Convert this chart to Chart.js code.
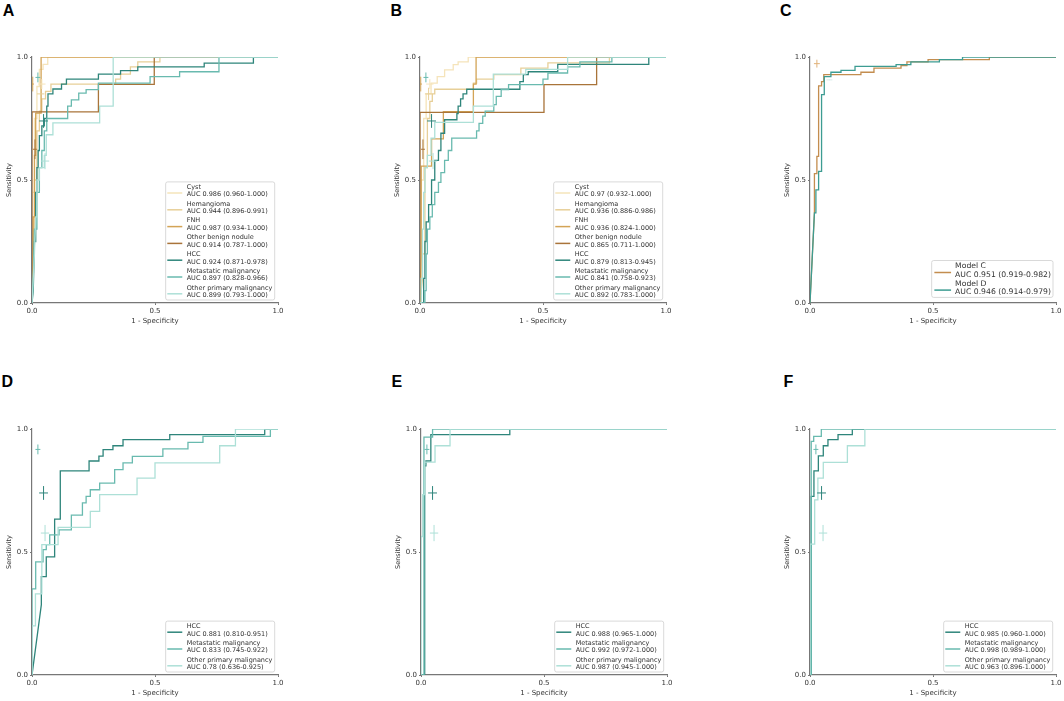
<!DOCTYPE html>
<html>
<head>
<meta charset="utf-8">
<script src="https://cdn.jsdelivr.net/npm/chart.js@4.4.1/dist/chart.umd.min.js"></script>
<style>
  html, body { margin: 0; padding: 0; background: #fff; }
  body { width: 1064px; height: 701px; position: relative; overflow: hidden; font-family: "DejaVu Sans", sans-serif; }
  canvas { position: absolute; }
  .letter { position: absolute; font: bold 16px/16px "Liberation Sans", Arial, sans-serif; color: #000; }
</style>
</head>
<body>
<div class="letter" style="left:2.7px;top:3.1px">A</div>
<div class="letter" style="left:390.5px;top:3.1px">B</div>
<div class="letter" style="left:779.9px;top:3.1px">C</div>
<div class="letter" style="left:1.5px;top:373.7px">D</div>
<div class="letter" style="left:391.5px;top:373.7px">E</div>
<div class="letter" style="left:783.5px;top:373.7px">F</div>

<canvas id="cA" width="288" height="280" style="left:1.8px;top:49.3px"></canvas>
<canvas id="cB" width="288" height="280" style="left:390px;top:49.3px"></canvas>
<canvas id="cC" width="288" height="280" style="left:779.7px;top:49.3px"></canvas>
<canvas id="cD" width="288" height="280" style="left:2px;top:421.3px"></canvas>
<canvas id="cE" width="288" height="280" style="left:391px;top:421.3px"></canvas>
<canvas id="cF" width="288" height="280" style="left:780px;top:421.3px"></canvas>

<script>
// ---------- classes ----------
const classNames = ['Cyst', 'Hemangioma', 'FNH', 'Other benign nodule', 'HCC', 'Metastatic malignancy', 'Other primary malignancy'];
const classColors = ['#f5e4ba', '#e7cf98', '#d3a456', '#a9743a', '#2e857b', '#69baaf', '#ade0d7'];

// ---------- reader operating points (1 - specificity, sensitivity, CI half widths) ----------
const readerFPR = [0.040, 0.035, 0.003, 0.012, 0.047, 0.024, 0.053];
const readerTPR = [0.890, 0.850, 0.890, 0.625, 0.740, 0.917, 0.577];
const readerFPRErr = [0.015, 0.015, 0.005, 0.008, 0.018, 0.010, 0.017];
const readerTPRErr = [0.020, 0.025, 0.030, 0.040, 0.028, 0.020, 0.033];

// ---------- panel A: ROC points [fpr, tpr] ----------
const A_Cyst = [[0,0],[0,0.45],[0.01,0.45],[0.01,0.75],[0.02,0.75],[0.02,0.88],[0.03,0.88],[0.03,0.95],[0.045,0.95],[0.045,0.97],[0.064,0.97],[0.064,1],[1,1]];
const A_Hemangioma = [[0,0],[0.005,0.3],[0.01,0.3],[0.01,0.5],[0.02,0.5],[0.02,0.7],[0.03,0.7],[0.03,0.78],[0.04,0.78],[0.04,0.83],[0.055,0.83],[0.055,0.86],[0.077,0.86],[0.077,0.89],[0.34,0.89],[0.34,0.91],[0.36,0.91],[0.36,0.93],[0.4,0.93],[0.4,0.96],[0.43,0.96],[0.43,0.98],[0.52,0.98],[0.52,1],[1,1]];
const A_FNH = [[0,0],[0.005,0.2],[0.005,0.35],[0.01,0.35],[0.01,0.6],[0.015,0.6],[0.015,0.772],[0.037,0.772],[0.037,1],[1,1]];
const A_OtherBenign = [[0,0],[0,0.777],[0.27,0.777],[0.27,0.889],[0.497,0.889],[0.497,1],[1,1]];
const A_HCC = [[0,0],[0.005,0.05],[0.01,0.25],[0.015,0.25],[0.015,0.45],[0.02,0.45],[0.02,0.55],[0.025,0.55],[0.025,0.62],[0.03,0.62],[0.03,0.68],[0.04,0.68],[0.04,0.72],[0.05,0.72],[0.05,0.75],[0.06,0.75],[0.06,0.8],[0.065,0.8],[0.065,0.85],[0.085,0.85],[0.085,0.87],[0.12,0.87],[0.12,0.89],[0.14,0.89],[0.14,0.91],[0.27,0.91],[0.27,0.93],[0.36,0.93],[0.36,0.945],[0.43,0.945],[0.43,0.96],[0.7,0.96],[0.7,0.975],[0.9,0.975],[0.9,1],[1,1]];
const A_Metastatic = [[0,0],[0.005,0.1],[0.01,0.3],[0.02,0.3],[0.02,0.45],[0.03,0.45],[0.03,0.55],[0.04,0.55],[0.04,0.62],[0.05,0.62],[0.05,0.7],[0.06,0.7],[0.06,0.75],[0.145,0.75],[0.145,0.8],[0.16,0.8],[0.16,0.826],[0.19,0.826],[0.19,0.853],[0.22,0.853],[0.22,0.867],[0.27,0.867],[0.27,0.894],[0.48,0.894],[0.48,0.92],[0.6,0.92],[0.6,0.94],[0.76,0.94],[0.76,1],[1,1]];
const A_OtherPrimary = [[0,0],[0.005,0.1],[0.01,0.2],[0.015,0.35],[0.02,0.35],[0.02,0.5],[0.03,0.5],[0.03,0.55],[0.05,0.55],[0.05,0.6],[0.058,0.6],[0.058,0.684],[0.085,0.684],[0.085,0.732],[0.275,0.732],[0.275,0.8],[0.33,0.8],[0.33,1],[1,1]];
const A_AUC = ['AUC 0.986 (0.960-1.000)', 'AUC 0.944 (0.896-0.991)', 'AUC 0.987 (0.934-1.000)', 'AUC 0.914 (0.787-1.000)', 'AUC 0.924 (0.871-0.978)', 'AUC 0.897 (0.828-0.966)', 'AUC 0.899 (0.793-1.000)'];

// ---------- panel B ----------
const B_Cyst = [[0,0],[0.005,0],[0.005,0.5],[0.015,0.5],[0.015,0.75],[0.025,0.75],[0.025,0.85],[0.045,0.85],[0.045,0.894],[0.07,0.894],[0.07,0.92],[0.1,0.92],[0.1,0.948],[0.135,0.948],[0.135,0.969],[0.155,0.969],[0.155,0.98],[0.196,0.98],[0.196,1],[1,1]];
const B_Hemangioma = [[0,0],[0.01,0.1],[0.01,0.2],[0.02,0.2],[0.02,0.55],[0.03,0.55],[0.03,0.75],[0.04,0.75],[0.04,0.82],[0.05,0.82],[0.05,0.85],[0.06,0.85],[0.06,0.869],[0.217,0.869],[0.217,0.894],[0.23,0.894],[0.23,0.91],[0.3,0.91],[0.3,0.928],[0.41,0.928],[0.41,0.955],[0.52,0.955],[0.52,0.976],[0.77,0.976],[0.77,1],[1,1]];
const B_FNH = [[0,0],[0.005,0.2],[0.005,0.556],[0.047,0.556],[0.047,0.667],[0.095,0.667],[0.095,0.778],[0.217,0.778],[0.217,0.89],[0.228,0.89],[0.228,1],[1,1]];
const B_OtherBenign = [[0,0],[0,0.775],[0.504,0.775],[0.504,0.888],[0.718,0.888],[0.718,1],[1,1]];
const B_HCC = [[0,0],[0.015,0],[0.015,0.1],[0.02,0.1],[0.02,0.25],[0.025,0.25],[0.025,0.33],[0.035,0.33],[0.035,0.4],[0.047,0.4],[0.047,0.5],[0.06,0.5],[0.06,0.58],[0.075,0.58],[0.075,0.62],[0.085,0.62],[0.085,0.69],[0.1,0.69],[0.1,0.745],[0.15,0.745],[0.15,0.77],[0.155,0.77],[0.155,0.8],[0.165,0.8],[0.165,0.83],[0.175,0.83],[0.175,0.85],[0.19,0.85],[0.19,0.869],[0.406,0.869],[0.406,0.9],[0.42,0.9],[0.42,0.928],[0.44,0.928],[0.44,0.94],[0.56,0.94],[0.56,0.97],[0.93,0.97],[0.93,1],[1,1]];
const B_Metastatic = [[0,0],[0.02,0],[0.02,0.05],[0.025,0.05],[0.025,0.2],[0.03,0.2],[0.03,0.3],[0.04,0.3],[0.04,0.35],[0.05,0.35],[0.05,0.4],[0.06,0.4],[0.06,0.45],[0.075,0.45],[0.075,0.49],[0.085,0.49],[0.085,0.53],[0.1,0.53],[0.1,0.58],[0.115,0.58],[0.115,0.62],[0.129,0.62],[0.129,0.67],[0.23,0.67],[0.23,0.7],[0.24,0.7],[0.24,0.73],[0.255,0.73],[0.255,0.76],[0.265,0.76],[0.265,0.78],[0.3,0.78],[0.3,0.806],[0.31,0.806],[0.31,0.84],[0.33,0.84],[0.33,0.867],[0.36,0.867],[0.36,0.888],[0.5,0.888],[0.5,0.91],[0.52,0.91],[0.52,0.935],[0.6,0.935],[0.6,0.96],[0.65,0.96],[0.65,0.98],[0.78,0.98],[0.78,1],[1,1]];
const B_OtherPrimary = [[0,0],[0.005,0],[0.005,0.1],[0.01,0.1],[0.01,0.3],[0.015,0.3],[0.015,0.45],[0.02,0.45],[0.02,0.55],[0.03,0.55],[0.03,0.6],[0.045,0.6],[0.045,0.67],[0.06,0.67],[0.06,0.734],[0.217,0.734],[0.217,0.8],[0.298,0.8],[0.298,0.93],[0.43,0.93],[0.43,0.95],[0.6,0.95],[0.6,1],[1,1]];
const B_AUC = ['AUC 0.97 (0.932-1.000)', 'AUC 0.936 (0.886-0.986)', 'AUC 0.936 (0.824-1.000)', 'AUC 0.865 (0.711-1.000)', 'AUC 0.879 (0.813-0.945)', 'AUC 0.841 (0.758-0.923)', 'AUC 0.892 (0.783-1.000)'];

// ---------- panel C ----------
const modelNames = ['Model C', 'Model D'];
const modelColors = ['#c38d4f', '#3d9c92'];
const C_ModelC = [[0,0],[0.018,0.366],[0.018,0.526],[0.028,0.526],[0.028,0.596],[0.035,0.596],[0.035,0.883],[0.047,0.883],[0.047,0.9],[0.056,0.9],[0.056,0.928],[0.207,0.928],[0.207,0.938],[0.26,0.938],[0.26,0.955],[0.37,0.955],[0.37,0.965],[0.394,0.965],[0.394,0.98],[0.48,0.98],[0.48,0.989],[0.729,0.989],[0.729,1],[1,1]];
const C_ModelD = [[0,0],[0.018,0.366],[0.024,0.366],[0.024,0.46],[0.035,0.46],[0.035,0.535],[0.047,0.535],[0.047,0.847],[0.058,0.847],[0.058,0.92],[0.085,0.92],[0.085,0.938],[0.126,0.938],[0.126,0.946],[0.183,0.946],[0.183,0.962],[0.35,0.962],[0.35,0.969],[0.41,0.969],[0.41,0.98],[0.526,0.98],[0.526,0.989],[0.62,0.989],[0.62,1],[1,1]];
const C_AUC = ['AUC 0.951 (0.919-0.982)', 'AUC 0.946 (0.914-0.979)'];
const readerC_FPR = [0.028, 0.079];
const readerC_TPR = [0.973, 0.907];
const readerC_FPRErr = [0.012, 0.012];
const readerC_TPRErr = [0.016, 0.002];
const readerC_Colors = ['#e0b27a', '#d6ecea'];

// ---------- panel D ----------
const D_HCC = [[0,0],[0.038,0.286],[0.038,0.4],[0.058,0.4],[0.058,0.48],[0.092,0.48],[0.092,0.634],[0.115,0.634],[0.115,0.83],[0.232,0.83],[0.232,0.87],[0.272,0.87],[0.272,0.89],[0.289,0.89],[0.289,0.916],[0.329,0.916],[0.329,0.932],[0.37,0.932],[0.37,0.957],[0.56,0.957],[0.56,0.977],[0.946,0.977],[0.946,1],[1,1]];
const D_Metastatic = [[0,0],[0,0.35],[0.015,0.35],[0.015,0.46],[0.045,0.46],[0.045,0.51],[0.058,0.51],[0.058,0.53],[0.072,0.53],[0.072,0.57],[0.11,0.57],[0.11,0.59],[0.16,0.59],[0.16,0.65],[0.205,0.65],[0.205,0.7],[0.22,0.7],[0.22,0.726],[0.237,0.726],[0.237,0.753],[0.275,0.753],[0.275,0.78],[0.336,0.78],[0.336,0.835],[0.37,0.835],[0.37,0.862],[0.408,0.862],[0.408,0.889],[0.532,0.889],[0.532,0.919],[0.634,0.919],[0.634,0.946],[0.695,0.946],[0.695,0.97],[0.969,0.97],[0.969,1],[1,1]];
const D_OtherPrimary = [[0,0],[0,0.2],[0.014,0.2],[0.014,0.33],[0.04,0.33],[0.04,0.53],[0.106,0.53],[0.106,0.6],[0.237,0.6],[0.237,0.665],[0.275,0.665],[0.275,0.733],[0.427,0.733],[0.427,0.8],[0.5,0.8],[0.5,0.862],[0.763,0.862],[0.763,0.932],[0.827,0.932],[0.827,1],[1,1]];
const D_AUC = ['AUC 0.881 (0.810-0.951)', 'AUC 0.833 (0.745-0.922)', 'AUC 0.78 (0.636-0.925)'];

// ---------- panel E ----------
const E_HCC = [[0,0],[0.015,0],[0.015,0.85],[0.02,0.85],[0.02,0.87],[0.04,0.87],[0.04,0.977],[0.361,0.977],[0.361,1],[1,1]];
const E_Metastatic = [[0,0],[0.012,0],[0.012,0.967],[0.047,0.967],[0.047,1],[1,1]];
const E_OtherPrimary = [[0,0],[0,0.563],[0.007,0.563],[0.007,0.733],[0.015,0.733],[0.015,0.865],[0.057,0.865],[0.057,0.932],[0.118,0.932],[0.118,1],[1,1]];
const E_AUC = ['AUC 0.988 (0.965-1.000)', 'AUC 0.992 (0.972-1.000)', 'AUC 0.987 (0.945-1.000)'];

// ---------- panel F ----------
const F_HCC = [[0,0],[0.005,0],[0.005,0.726],[0.016,0.726],[0.016,0.83],[0.034,0.83],[0.034,0.891],[0.054,0.891],[0.054,0.932],[0.073,0.932],[0.073,0.957],[0.114,0.957],[0.114,0.977],[0.172,0.977],[0.172,1],[1,1]];
const F_Metastatic = [[0,0],[0.005,0],[0.005,0.95],[0.015,0.95],[0.015,0.97],[0.046,0.97],[0.046,1],[1,1]];
const F_OtherPrimary = [[0,0],[0,0.532],[0.019,0.532],[0.019,0.712],[0.032,0.712],[0.032,0.8],[0.054,0.8],[0.054,0.864],[0.152,0.864],[0.152,0.932],[0.223,0.932],[0.223,1],[1,1]];
const F_AUC = ['AUC 0.985 (0.960-1.000)', 'AUC 0.998 (0.989-1.000)', 'AUC 0.963 (0.896-1.000)'];

const tickLabels = ['0.0', '0.5', '1.0'];

// ---------- legend plugin (two-line entries, matplotlib style) ----------
const rocLegend = {
  id: 'rocLegend',
  afterDraw(chart, args, o) {
    if (!o || !o.items) return;
    const ctx = chart.ctx, ca = chart.chartArea;
    ctx.save();
    ctx.font = o.fontSize + 'px "DejaVu Sans"';
    let tw = 0;
    o.items.forEach(it => { tw = Math.max(tw, ctx.measureText(it.l1).width, ctx.measureText(it.l2).width); });
    const w = o.padL + o.handleLen + o.gap + tw + o.padR;
    const h = o.padT + (o.items.length - 1) * o.entryH + o.lineH + o.padB;
    const x0 = ca.right - o.offR - w;
    const y0 = ca.bottom - o.offB - h;
    ctx.beginPath();
    if (ctx.roundRect) ctx.roundRect(x0, y0, w, h, 2); else ctx.rect(x0, y0, w, h);
    ctx.fillStyle = 'rgba(255,255,255,0.85)';
    ctx.fill();
    ctx.lineWidth = 0.8;
    ctx.strokeStyle = '#cfcfcf';
    ctx.stroke();
    ctx.textBaseline = 'middle';
    ctx.textAlign = 'left';
    o.items.forEach((it, i) => {
      const cy = y0 + o.padT + i * o.entryH;
      ctx.strokeStyle = it.color;
      ctx.lineWidth = 1.5;
      ctx.beginPath();
      ctx.moveTo(x0 + o.padL, cy + o.handleDy);
      ctx.lineTo(x0 + o.padL + o.handleLen, cy + o.handleDy);
      ctx.stroke();
      ctx.fillStyle = '#333';
      ctx.fillText(it.l1, x0 + o.padL + o.handleLen + o.gap, cy);
      ctx.fillText(it.l2, x0 + o.padL + o.handleLen + o.gap, cy + o.lineH);
    });
    ctx.restore();
  }
};

const smallLegend = { fontSize: 6.5, lineH: 7.5, entryH: 16.8, padT: 5.3, padB: 4.5, padL: 1.6, handleLen: 15, gap: 4.4, padR: 2.3, offR: 3.3, offB: 3, handleDy: 5.8 };
const largeLegend = { fontSize: 7.7, lineH: 8.3, entryH: 17.6, padT: 6, padB: 5, padL: 2.7, handleLen: 16.7, gap: 4, padR: 2, offR: 3, offB: 5.6, handleDy: 6 };

function axisCfg(isX) {
  return {
    type: 'linear', min: 0, max: 1,
    afterFit: s => { if (isX) s.height = 26; else s.width = 30; },
    ticks: {
      stepSize: 0.5, autoSkip: false, maxRotation: 0, padding: 2,
      callback: (v) => tickLabels[Math.round(v * 2)],
      font: { family: 'DejaVu Sans', size: 7 }, color: '#333'
    },
    grid: { display: true, drawOnChartArea: false, drawTicks: true, tickLength: 2, color: '#777', lineWidth: 1 },
    border: { display: true, color: '#777', width: 1.2 },
    title: {
      display: true,
      text: isX ? '1 - Specificity' : 'Sensitivity',
      font: { family: 'DejaVu Sans', size: isX ? 7 : 6.5 },
      color: '#333',
      padding: isX ? { top: 0, bottom: 3.7 } : { top: 3.4, bottom: 0 }
    }
  };
}

function buildPanel(id, curves, colors, names, aucs, cr, legendOpts) {
  const datasets = [];
  curves.forEach((c, i) => {
    datasets.push({
      data: c.map(p => ({ x: p[0], y: p[1] })),
      showLine: true, borderColor: colors[i], borderWidth: 1.3,
      pointRadius: 0, fill: false, tension: 0, clip: 0, order: 100 - i
    });
  });
  cr.fpr.forEach((fx, i) => {
    const fy = cr.tpr[i];
    datasets.push({
      data: [{ x: fx - cr.ex[i], y: fy }, { x: fx + cr.ex[i], y: fy }],
      showLine: true, borderColor: cr.colors[i], borderWidth: 1, pointRadius: 0, clip: 0, order: 1
    });
    datasets.push({
      data: [{ x: fx, y: fy - cr.ey[i] }, { x: fx, y: fy + cr.ey[i] }],
      showLine: true, borderColor: cr.colors[i], borderWidth: 1, pointRadius: 0, clip: 0, order: 1
    });
  });
  const items = names.map((n, i) => ({ color: colors[i], l1: n, l2: aucs[i] }));
  new Chart(document.getElementById(id), {
    type: 'scatter',
    data: { datasets },
    options: {
      responsive: false, animation: false, devicePixelRatio: 1,
      layout: { padding: { left: 0, right: 12, top: 8, bottom: 0 } },
      scales: { x: axisCfg(true), y: axisCfg(false) },
      plugins: {
        legend: { display: false }, tooltip: { enabled: false },
        rocLegend: Object.assign({ items }, legendOpts)
      }
    },
    plugins: [rocLegend]
  });
}

function readersFor(idx) {
  return {
    fpr: idx.map(i => readerFPR[i]), tpr: idx.map(i => readerTPR[i]),
    ex: idx.map(i => readerFPRErr[i]), ey: idx.map(i => readerTPRErr[i]),
    colors: idx.map(i => classColors[i])
  };
}

const allIdx = [0, 1, 2, 3, 4, 5, 6];
const malIdx = [4, 5, 6];

buildPanel('cA', [A_Cyst, A_Hemangioma, A_FNH, A_OtherBenign, A_HCC, A_Metastatic, A_OtherPrimary],
  classColors, classNames, A_AUC, readersFor(allIdx), smallLegend);
buildPanel('cB', [B_Cyst, B_Hemangioma, B_FNH, B_OtherBenign, B_HCC, B_Metastatic, B_OtherPrimary],
  classColors, classNames, B_AUC, readersFor(allIdx), smallLegend);
buildPanel('cC', [C_ModelC, C_ModelD], modelColors, modelNames, C_AUC,
  { fpr: readerC_FPR, tpr: readerC_TPR, ex: readerC_FPRErr, ey: readerC_TPRErr, colors: readerC_Colors }, largeLegend);
const malColors = malIdx.map(i => classColors[i]);
const malNames = malIdx.map(i => classNames[i]);
buildPanel('cD', [D_HCC, D_Metastatic, D_OtherPrimary], malColors, malNames, D_AUC, readersFor(malIdx), smallLegend);
buildPanel('cE', [E_HCC, E_Metastatic, E_OtherPrimary], malColors, malNames, E_AUC, readersFor(malIdx), smallLegend);
buildPanel('cF', [F_HCC, F_Metastatic, F_OtherPrimary], malColors, malNames, F_AUC, readersFor(malIdx), smallLegend);
</script>
</body>
</html>
